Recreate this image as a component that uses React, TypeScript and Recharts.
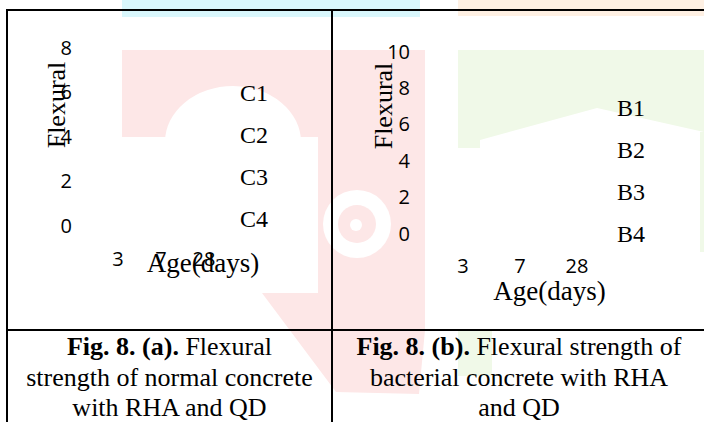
import { BarChart, Bar, XAxis, YAxis, Legend } from "recharts";

// Fig. 8 – flexural strength; the figure shows axes and legend only, no bars are drawn
const ages = ["3", "7", "28"];
const normalNames = ["C1", "C2", "C3", "C4"];
const bacterialNames = ["B1", "B2", "B3", "B4"];
const c1: (number | null)[] = [null, null, null];
const c2: (number | null)[] = [null, null, null];
const c3: (number | null)[] = [null, null, null];
const c4: (number | null)[] = [null, null, null];
const b1: (number | null)[] = [null, null, null];
const b2: (number | null)[] = [null, null, null];
const b3: (number | null)[] = [null, null, null];
const b4: (number | null)[] = [null, null, null];
const normalTicks = [0, 2, 4, 6, 8];
const bacterialTicks = [0, 2, 4, 6, 8, 10];

const serif = "'Liberation Serif', 'Times New Roman', serif";
const sans = "'Open Sans', sans-serif";

const normalData = ages.map((age, i) => ({ age, C1: c1[i], C2: c2[i], C3: c3[i], C4: c4[i] }));
const bacterialData = ages.map((age, i) => ({ age, B1: b1[i], B2: b2[i], B3: b3[i], B4: b4[i] }));

const axisTitle = (text: string, dx: number, dy: number, size: number, vertical: boolean) => (props: any) => {
  const vb = props.viewBox || { x: 0, y: 0 };
  const x = vb.x + dx;
  const y = vb.y + dy;
  return (
    <text x={x} y={y} textAnchor="middle" dominantBaseline="central" fontFamily={serif} fontSize={size} fill="#000"
      transform={vertical ? `rotate(-90 ${x} ${y})` : undefined}>{text}</text>
  );
};

const makeTick = (anchor: string) => (props: any) => (
  <text x={props.x} y={props.y} textAnchor={anchor} dominantBaseline="central" fontFamily={sans} fontSize={20} fill="#000">
    {props.payload?.value}
  </text>
);
const xTick = makeTick("middle");
const yTick = makeTick("end");

const SeriesLegend = ({ payload }: any) => (
  <div style={{ fontFamily: serif, fontSize: 24, lineHeight: "42px", color: "#000" }}>
    {(payload || []).map((p: any) => <div key={p.value}>{p.value}</div>)}
  </div>
);

function Watermark() {
  return (
    <svg width={704} height={422} style={{ position: "absolute", left: 0, top: 0 }}>
      <rect x={122} y={0} width={298} height={17} fill="#d9f7fc" />
      <rect x={458} y={0} width={246} height={16} fill="#fef0e3" />
      <polygon points="122,50 425,50 425,330 419,394 336,392 262,293 318,293 318,137 122,137" fill="#fde7e7" />
      <ellipse cx={233} cy={142} rx={68} ry={56} fill="#fff" />
      <circle cx={357} cy={224} r={34} fill="#fff" />
      <circle cx={357} cy={224} r={19} fill="#fde7e7" />
      <circle cx={356} cy={225} r={6} fill="#fff" />
      <polygon points="458,50 704,50 704,132 597,108 480,140 480,148 458,148" fill="#f0f9e8" />
      <rect x={700} y={132} width={4} height={120} fill="#f0f9e8" />
      <rect x={458} y={331} width={34} height={45} fill="#f0f9e8" />
    </svg>
  );
}

export default function App() {
  return (
    <div style={{ position: "fixed", left: 0, top: 0, width: 704, height: 422, overflow: "hidden", background: "#fff" }}>
      <Watermark />

      {/* table rules */}
      <div style={{ position: "absolute", left: 6, top: 9, width: 704, height: 2, background: "#000" }} />
      <div style={{ position: "absolute", left: 6, top: 9, width: 2, height: 413, background: "#000" }} />
      <div style={{ position: "absolute", left: 331, top: 9, width: 2, height: 413, background: "#000" }} />
      <div style={{ position: "absolute", left: 6, top: 329, width: 704, height: 2, background: "#000" }} />

      {/* (a) normal concrete */}
      <div style={{ position: "absolute", left: 0, top: 0 }}>
        <BarChart width={332} height={330} data={normalData} margin={{ top: 47, right: 106.5, bottom: 45, left: 0 }}>
          <XAxis dataKey="age" interval={0} tickLine={false} axisLine={false} tickSize={0} tickMargin={33} height={60} tick={xTick}
            label={axisTitle("Age(days)", 106.5, 38, 27, false)} />
          <YAxis type="number" domain={[0, 8]} allowDataOverflow ticks={normalTicks} interval={0} tickLine={false} axisLine={false} tickSize={0} tickMargin={24.5} width={96.5} tick={yTick}
            label={axisTitle("Flexural", 56, 58, 26, true)} />
          <Legend layout="vertical" align="center" verticalAlign="middle" content={<SeriesLegend />}
            wrapperStyle={{ left: 240, top: 72, width: 40, height: "auto" }} />
          {normalNames.map((n) => <Bar key={n} dataKey={n} name={n} fill="#000" isAnimationActive={false} />)}
        </BarChart>
      </div>

      {/* (b) bacterial concrete */}
      <div style={{ position: "absolute", left: 332, top: 0 }}>
        <BarChart width={372} height={330} data={bacterialData} margin={{ top: 51, right: 98.5, bottom: 37, left: 0 }}>
          <XAxis dataKey="age" interval={0} tickLine={false} axisLine={false} tickSize={0} tickMargin={32} height={60} tick={xTick}
            label={axisTitle("Age(days)", 115, 58, 27, false)} />
          <YAxis type="number" domain={[0, 10]} allowDataOverflow ticks={bacterialTicks} interval={0} tickLine={false} axisLine={false} tickSize={0} tickMargin={24.5} width={102.5} tick={yTick}
            label={axisTitle("Flexural", 51, 55, 26, true)} />
          <Legend layout="vertical" align="center" verticalAlign="middle" content={<SeriesLegend />}
            wrapperStyle={{ left: 285, top: 87, width: 40, height: "auto" }} />
          {bacterialNames.map((n) => <Bar key={n} dataKey={n} name={n} fill="#000" isAnimationActive={false} />)}
        </BarChart>
      </div>

      {/* captions */}
      <div style={{ position: "absolute", left: 8, top: 332, width: 323, textAlign: "center", fontFamily: serif, fontSize: 26, lineHeight: "30.5px", whiteSpace: "nowrap", color: "#000" }}>
        <b>Fig. 8. (a).</b> Flexural<br />strength of normal concrete<br />with RHA and QD
      </div>
      <div style={{ position: "absolute", left: 333, top: 332, width: 372, textAlign: "center", fontFamily: serif, fontSize: 26, lineHeight: "30.5px", whiteSpace: "nowrap", color: "#000" }}>
        <b>Fig. 8. (b).</b> Flexural strength of<br />bacterial concrete with RHA<br />and QD
      </div>
    </div>
  );
}
